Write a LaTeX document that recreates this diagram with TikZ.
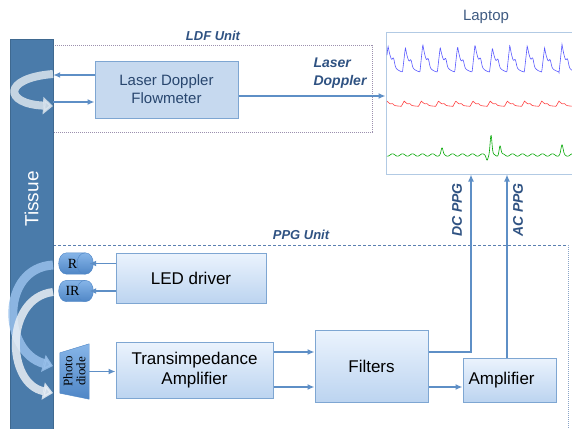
\documentclass[tikz,border=0pt]{standalone}
\usepackage{fontspec}
\setmainfont{Liberation Sans}
\newfontfamily\ledfont{Liberation Serif}
\usetikzlibrary{arrows.meta}

\definecolor{barblue}{HTML}{4A7BAA}
\definecolor{boxline}{HTML}{7EA6D2}
\definecolor{ldffill}{HTML}{C6D9EF}
\definecolor{ppgtop}{HTML}{EBF3FD}
\definecolor{ppgbot}{HTML}{BCD4F0}
\definecolor{arrowblue}{HTML}{5E8FC6}
\definecolor{labelblue}{HTML}{2F5282}
\definecolor{ldfdot}{HTML}{9C90AE}
\definecolor{ppgdot}{HTML}{5A7FB0}
\definecolor{ledtop}{HTML}{86B5E8}
\definecolor{ledbot}{HTML}{4F86C6}

\tikzset{
  unitbox/.style={draw=boxline, line width=1pt, top color=ppgtop, bottom color=ppgbot,
    inner sep=0pt, align=center, font=\fontsize{17}{20}\selectfont},
  ledbox/.style={minimum width=29, minimum height=21, inner sep=0pt, font=\ledfont\fontsize{14}{15}\selectfont},
  ledbody/.style={draw=ledbot, top color=ledtop, bottom color=ledbot},
  arr/.style={draw=arrowblue, line width=1.5pt, -{Latex[length=7pt,width=6pt]}},
  unitlabel/.style={font=\bfseries\itshape\fontsize{13}{15}\selectfont, text=labelblue},
  siglabel/.style={font=\bfseries\itshape\fontsize{14}{18}\selectfont, text=labelblue, align=left},
  light/.style={line width=8pt, opacity=0.85, -{Triangle[length=10pt,width=17pt]}},
  declare function={bump(\t)=exp(-min(\t*\t,40));
    pulse(\p)=ifthenelse(\p<3, \p/3, exp(-(\p-3)/4.5)+0.22*bump((\p-8.5)/1.4));}
}

\begin{document}
\begin{tikzpicture}[x=1pt,y=-1pt]
  \useasboundingbox (0,0) rectangle (572,428);

  % Unit frames
  \draw[ldfdot, line width=1pt, densely dotted] (53,46) -| (372,132) -- (53,132);
  \draw[ppgdot, line width=0.8pt, densely dashed] (53,245) -- (568,245);
  \draw[ppgdot!70, line width=1pt, densely dotted] (568,245) -- (568,430);
  \node[unitlabel] (ldfunit) at (213,36) {LDF Unit};
  \node[unitlabel] (ppgunit) at (301,235) {PPG Unit};

  % Tissue
  \node[fill=barblue, draw=barblue!85!black, minimum width=43, minimum height=392, inner sep=0] (tissue) at (31.5,235) {};
  \node[rotate=90, text=white, font=\fontsize{19}{22}\selectfont] (tissuetext) at (31.5,199) {Tissue};
  \draw[light, color=white!80!barblue] (53,74) .. controls (2,78) and (4,104) .. (53,106);
  \draw[light, color=ledtop!85!white, line width=9pt] (53,265) .. controls (0,268) and (2,352) .. (53,366);
  \draw[light, color=white!88!barblue] (53,292) .. controls (4,298) and (6,384) .. (53,393);

  % Laptop
  \node[draw=boxline!60, line width=1pt, minimum width=200, minimum height=141, inner sep=0] (laptop) at (486,103.5) {};
  \node[text=labelblue!80!gray, font=\fontsize{15}{17}\selectfont] (laptoptext) at (486,17) {Laptop};
  \draw[blue!65, line width=0.6pt] plot[domain=387:572, samples=500]
    (\x, {73 - (1+0.07*sin(\x*13))*27*pulse(mod(\x-385,17.4))});
  \draw[red!75, line width=0.6pt] plot[domain=387:572, samples=400]
    (\x, {106.5 - 5.5*pulse(mod(\x-384,17.2))});
  \draw[green!65!black, line width=0.6pt] plot[domain=387:572, samples=500]
    (\x, {155 - 1.2*sin(mod(\x,10)*36) - 19*bump((\x-491)/1.3) + 4*bump((\x-487)/1.2)
      - 9*bump((\x-500)/1.3) - 6*bump((\x-442)/1.3) - 9*bump((\x-562)/1.5)});
  \coordinate (dcin) at ([xshift=-15pt]laptop.south);
  \coordinate (acin) at ([xshift=21pt]laptop.south);

  % LDF unit
  \node[draw=boxline, line width=1pt, fill=ldffill, minimum width=143, minimum height=57, inner sep=0,
    align=center, text=labelblue!85!black, font=\fontsize{15}{18}\selectfont] (ldf) at (166.5,89.5) {Laser Doppler\\Flowmeter};
  \draw[arr] ([yshift=14.5pt]ldf.west) coordinate (ldfout) -- (ldfout -| tissue.east);
  \draw[arr] ([yshift=-12.5pt]ldf.west -| tissue.east) -- ([yshift=-12.5pt]ldf.west);
  \draw[arr] ([yshift=-6.5pt]ldf.east) coordinate (ldfsig) -- (ldfsig -| laptop.west);
  \node[siglabel] (ldflabel) at (340,73) {Laser\\Doppler};

  % PPG unit
  \foreach \led/\ypos/\txt in {r/263.5/R, ir/291/IR} {
    \node[ledbox] (\led) at (74.5,\ypos) {};
    \draw[ledbody] ([xshift=-4pt]\led.north east) -- ([xshift=7pt]\led.north west)
      to[out=180, in=180, looseness=1.3] ([xshift=7pt]\led.south west)
      -- ([xshift=-4pt]\led.south east) to[out=0, in=0, looseness=1.3] cycle;
    \draw[ledbot] ([xshift=-4pt]\led.north east) to[out=180, in=180, looseness=1.3] ([xshift=-4pt]\led.south east);
    \node[ledbox, minimum width=0] at ([xshift=-2pt]\led.center) {\txt};
  }
  \node[unitbox, minimum width=150, minimum height=50] (led) at (191,278) {LED driver};
  \draw[arr] (r.east -| led.west) -- (r.east);
  \draw[arr] (ir.east -| led.west) -- (ir.east);

  \node[minimum width=29, minimum height=55, inner sep=0] (pd) at (74.5,371.5) {};
  \draw[ledbody]
    ([yshift=-9pt]pd.north west) -- (pd.north east) -- (pd.south east) -- ([yshift=6pt]pd.south west) -- cycle;
  \node[rotate=90, align=center, font=\ledfont\fontsize{13}{13}\selectfont] (pdtext) at (pd.center) {Photo\\diode};

  \node[unitbox, minimum width=157, minimum height=56] (tia) at (194.5,370) {Transimpedance\\Amplifier};
  \node[unitbox, minimum width=113, minimum height=72] (filters) at (371.5,366) {Filters};
  \node[unitbox, minimum width=93, minimum height=44, text width=82, align=left] (amp) at (509.5,380) {Amplifier};

  \draw[arr] (pd.east) -- (pd.east -| tia.west);
  \draw[arr] ([yshift=18pt]tia.east) coordinate (t1) -- (t1 -| filters.west);
  \draw[arr] ([yshift=-17pt]tia.east) coordinate (t2) -- (t2 -| filters.west);
  \draw[arr] ([yshift=14pt]filters.east) -| (dcin);
  \draw[arr] ([yshift=-21pt]filters.east) coordinate (f2) -- (f2 -| amp.west);
  \draw[arr] (amp.north -| acin) -- (acin);
  \node[siglabel, rotate=90] (dclabel) at (457,210) {DC PPG};
  \node[siglabel, rotate=90] (aclabel) at (518,210) {AC PPG};
\end{tikzpicture}
\end{document}
